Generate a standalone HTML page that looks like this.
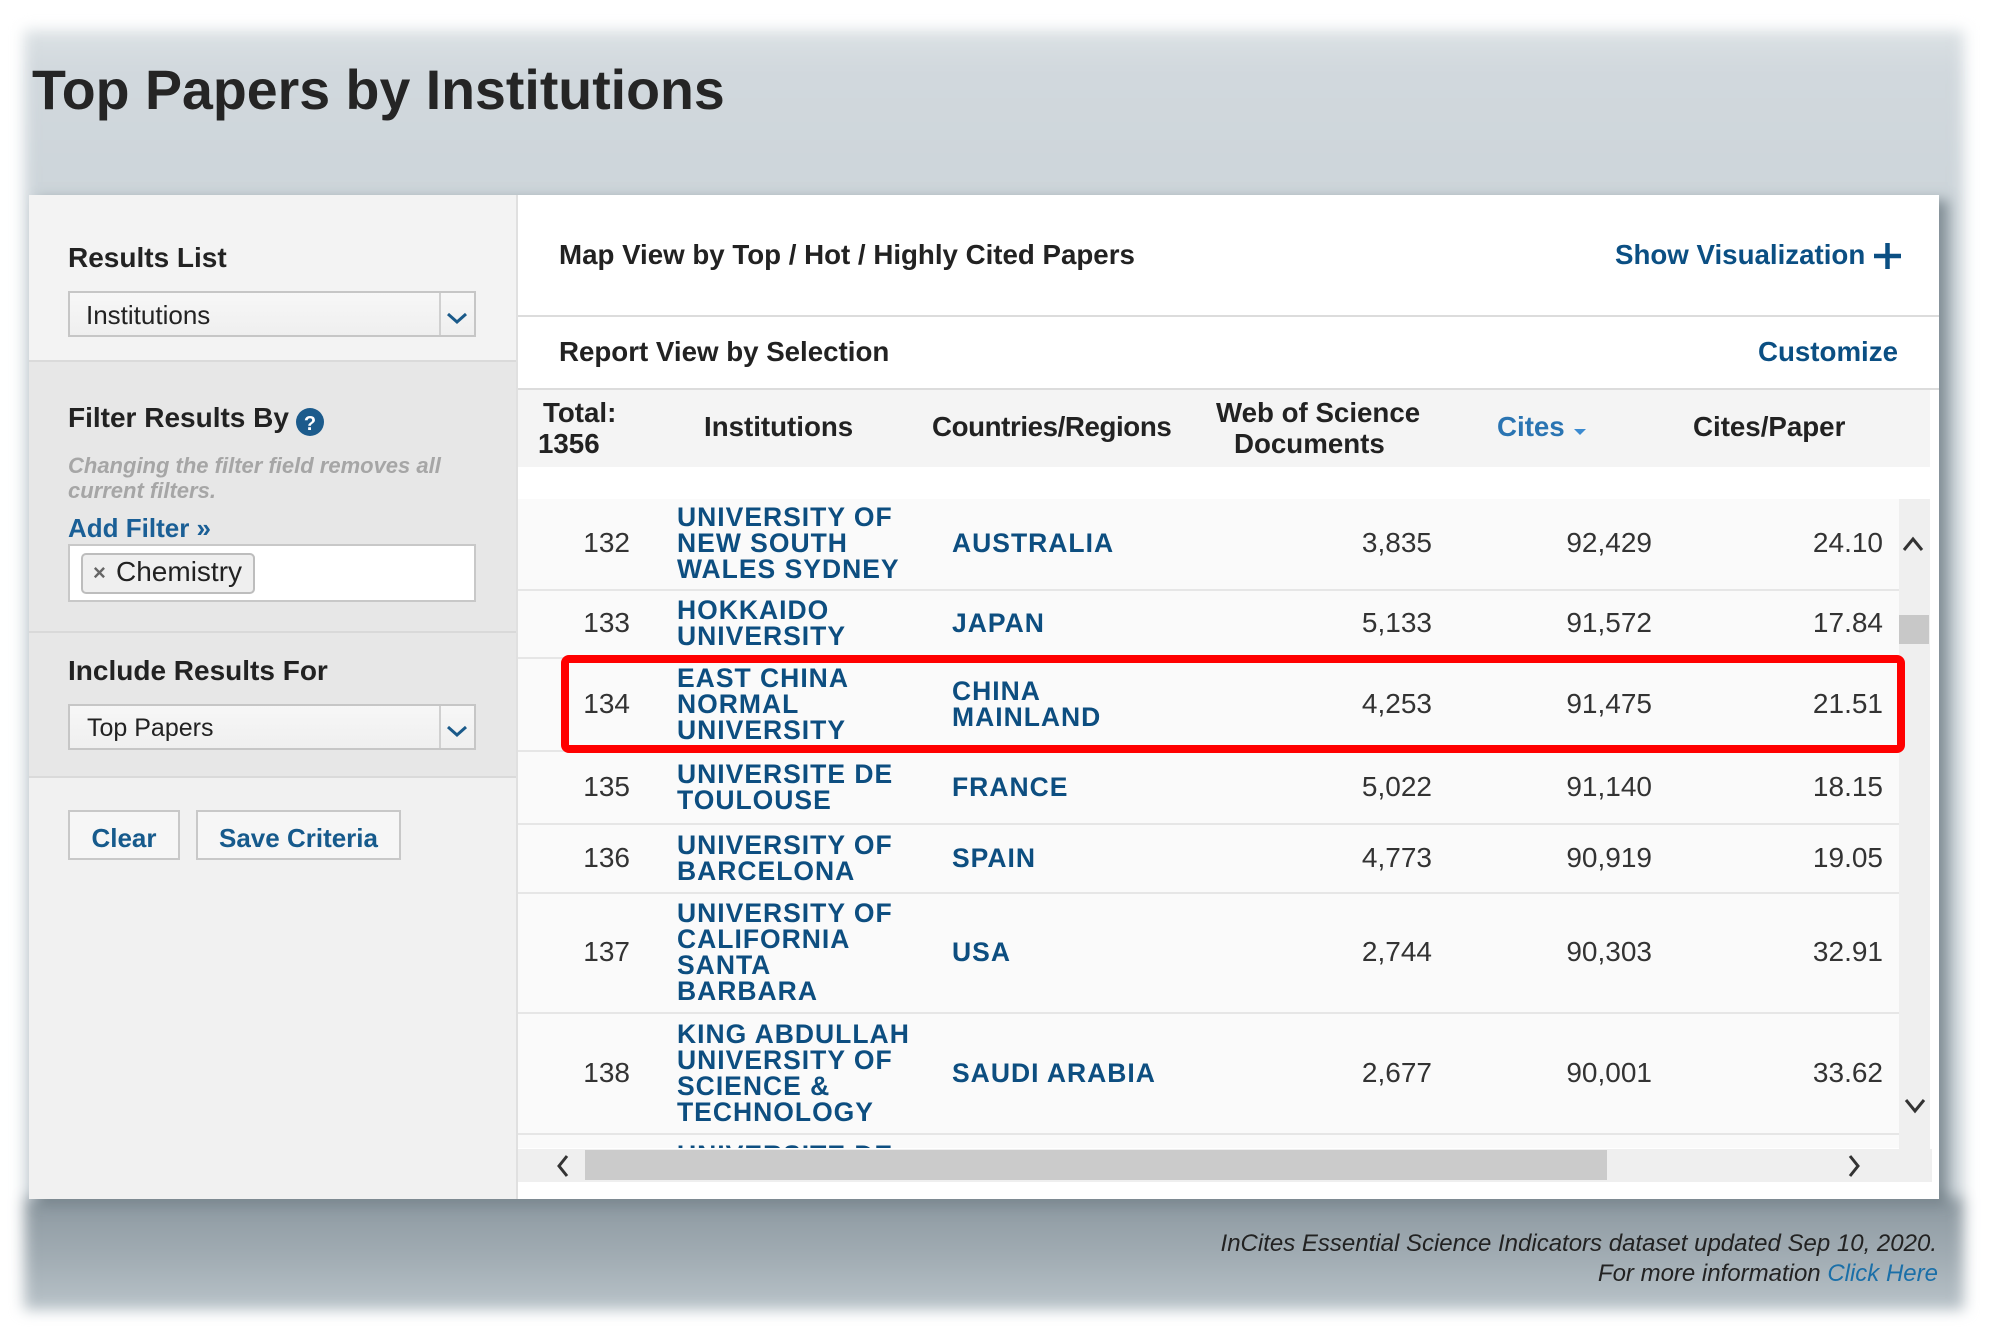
<!DOCTYPE html>
<html>
<head>
<meta charset="utf-8">
<style>
*{box-sizing:border-box;}
body{margin:0;width:2000px;height:1333px;position:relative;overflow:hidden;background:#fff;font-family:"Liberation Sans",Arial,sans-serif;color:#222;}
.a{position:absolute;white-space:nowrap;}
.b{font-weight:bold;}
.hdr{font-size:27.7px;line-height:27.7px;font-weight:bold;color:#222;}
.lbl{font-size:28px;line-height:28px;font-weight:bold;color:#222;}
.blue{color:#0b4f83;}
.row{position:absolute;left:0;width:1381px;background:#fafafa;border-bottom:2px solid #e6e6e6;}
.c{position:absolute;top:0;bottom:2px;display:flex;align-items:center;}
.inst{left:159px;font-size:26.5px;line-height:26px;font-weight:bold;letter-spacing:1px;color:#0d4e80;white-space:nowrap;}
.ctry{left:434px;font-size:26.5px;line-height:26px;font-weight:bold;letter-spacing:1px;color:#0d4e80;white-space:nowrap;}
.num{font-size:28px;line-height:28px;color:#333;justify-content:flex-end;width:150px;}
.n0{left:-38px;}
.n1{left:764px;}
.n2{left:984px;}
.n3{left:1215px;}
.dd{position:absolute;left:68px;width:408px;height:46px;border:2px solid #c6c6c6;background:linear-gradient(#f7f7f7,#efefef);}
.dd .div{position:absolute;left:369px;top:0;bottom:0;border-left:2px solid #d0d0d0;}
.btn{position:absolute;top:810px;height:50px;border:2px solid #c8c8c8;background:#f6f6f6;font-size:26px;line-height:26px;font-weight:bold;color:#165a8c;text-align:center;padding-top:13px;}
</style>
</head>
<body>

<!-- backdrop -->
<div class="a" style="left:24px;top:30px;width:1940px;height:1280px;filter:blur(7px);background:linear-gradient(to bottom,#dbe1e4 0px,#d1d8dd 40px,#cdd5da 165px,#cdd5da 1165px,#8d99a1 1170px,#a2adb4 1230px,#b9c3c9 1280px);"></div>

<!-- title -->
<div class="a b" style="left:32px;top:63px;font-size:55.5px;line-height:55.5px;color:#252525;">Top Papers by Institutions</div>

<!-- main panel -->
<div class="a" style="left:29px;top:195px;width:1910px;height:1004px;background:#fff;box-shadow:9px 5px 12px rgba(70,85,95,0.55);"></div>

<!-- left panel -->
<div class="a" style="left:29px;top:195px;width:489px;height:1004px;background:#f1f1f1;border-right:2px solid #e0e0e0;"></div>
<div class="a" style="left:29px;top:195px;width:487px;height:165px;background:#f3f3f3;"></div>
<div class="a" style="left:29px;top:360px;width:487px;height:418px;background:#e7e7e7;border-top:2px solid #dadada;border-bottom:2px solid #dadada;"></div>
<div class="a" style="left:29px;top:631px;width:487px;height:2px;background:#d9d9d9;"></div>

<div class="a lbl" style="left:68px;top:244px;">Results List</div>
<div class="dd" style="top:291px;"><div class="div"></div></div>
<div class="a" style="left:86px;top:302px;font-size:26px;line-height:26px;color:#222;">Institutions</div>

<div class="a lbl" style="left:68px;top:404px;">Filter Results By</div>
<div class="a" style="left:68px;top:453px;font-size:22px;line-height:25px;font-weight:bold;font-style:italic;color:#a6a6a6;">Changing the filter field removes all<br>current filters.</div>
<div class="a b" style="left:68px;top:515px;font-size:26px;line-height:26px;color:#1a5f96;">Add Filter »</div>
<div class="a" style="left:68px;top:544px;width:408px;height:58px;background:#fff;border:2px solid #c8c8c8;"></div>
<div class="a" style="left:81px;top:553px;width:174px;height:41px;background:#efefef;border:2px solid #bdbdbd;border-radius:5px;"></div>
<div class="a b" style="left:93px;top:562px;font-size:22px;line-height:22px;color:#666;">×</div>
<div class="a" style="left:116px;top:558px;font-size:28px;line-height:28px;color:#222;">Chemistry</div>

<div class="a lbl" style="left:68px;top:657px;">Include Results For</div>
<div class="dd" style="top:704px;"><div class="div"></div></div>
<div class="a" style="left:87px;top:716px;font-size:25px;line-height:25px;color:#222;">Top Papers</div>

<div class="btn" style="left:68px;width:112px;">Clear</div>
<div class="btn" style="left:196px;width:205px;">Save Criteria</div>

<!-- right panel sections -->
<div class="a hdr" style="left:559px;top:241px;">Map View by Top / Hot / Highly Cited Papers</div>
<div class="a hdr blue" style="left:1615px;top:241px;">Show Visualization</div>
<div class="a" style="left:518px;top:315px;width:1421px;height:2px;background:#dcdcdc;"></div>
<div class="a hdr" style="left:559px;top:338px;">Report View by Selection</div>
<div class="a hdr blue" style="left:1758px;top:338px;">Customize</div>
<div class="a" style="left:518px;top:388px;width:1421px;height:2px;background:#dcdcdc;"></div>

<!-- table header -->
<div class="a" style="left:518px;top:390px;width:1412px;height:77px;background:#f4f4f4;"></div>
<div class="a hdr" style="left:543px;top:399px;">Total:</div>
<div class="a hdr" style="left:538px;top:430px;">1356</div>
<div class="a hdr" style="left:704px;top:413px;">Institutions</div>
<div class="a hdr" style="left:932px;top:413px;letter-spacing:-0.4px;">Countries/Regions</div>
<div class="a hdr" style="left:1216px;top:399px;">Web of Science</div>
<div class="a hdr" style="left:1234px;top:430px;">Documents</div>
<div class="a hdr" style="left:1497px;top:413px;color:#2a74b2;">Cites</div>
<div class="a hdr" style="left:1693px;top:413px;">Cites/Paper</div>

<!-- rows -->
<div class="a" style="left:518px;top:499px;width:1381px;height:649px;overflow:hidden;background:#fafafa;">
  <div class="row" style="top:0px;height:92px;">
    <div class="c num n0">132</div>
    <div class="c inst">UNIVERSITY OF<br>NEW SOUTH<br>WALES SYDNEY</div>
    <div class="c ctry">AUSTRALIA</div>
    <div class="c num n1">3,835</div><div class="c num n2">92,429</div><div class="c num n3">24.10</div>
  </div>
  <div class="row" style="top:92px;height:68px;">
    <div class="c num n0">133</div>
    <div class="c inst">HOKKAIDO<br>UNIVERSITY</div>
    <div class="c ctry">JAPAN</div>
    <div class="c num n1">5,133</div><div class="c num n2">91,572</div><div class="c num n3">17.84</div>
  </div>
  <div class="row" style="top:160px;height:93px;">
    <div class="c num n0">134</div>
    <div class="c inst">EAST CHINA<br>NORMAL<br>UNIVERSITY</div>
    <div class="c ctry">CHINA<br>MAINLAND</div>
    <div class="c num n1">4,253</div><div class="c num n2">91,475</div><div class="c num n3">21.51</div>
  </div>
  <div class="row" style="top:253px;height:73px;">
    <div class="c num n0">135</div>
    <div class="c inst">UNIVERSITE DE<br>TOULOUSE</div>
    <div class="c ctry">FRANCE</div>
    <div class="c num n1">5,022</div><div class="c num n2">91,140</div><div class="c num n3">18.15</div>
  </div>
  <div class="row" style="top:326px;height:69px;">
    <div class="c num n0">136</div>
    <div class="c inst">UNIVERSITY OF<br>BARCELONA</div>
    <div class="c ctry">SPAIN</div>
    <div class="c num n1">4,773</div><div class="c num n2">90,919</div><div class="c num n3">19.05</div>
  </div>
  <div class="row" style="top:395px;height:120px;">
    <div class="c num n0">137</div>
    <div class="c inst">UNIVERSITY OF<br>CALIFORNIA<br>SANTA<br>BARBARA</div>
    <div class="c ctry">USA</div>
    <div class="c num n1">2,744</div><div class="c num n2">90,303</div><div class="c num n3">32.91</div>
  </div>
  <div class="row" style="top:515px;height:121px;">
    <div class="c num n0">138</div>
    <div class="c inst">KING ABDULLAH<br>UNIVERSITY OF<br>SCIENCE &amp;<br>TECHNOLOGY</div>
    <div class="c ctry">SAUDI ARABIA</div>
    <div class="c num n1">2,677</div><div class="c num n2">90,001</div><div class="c num n3">33.62</div>
  </div>
  <div class="row" style="top:636px;height:120px;border-bottom:none;">
    <div class="a inst" style="left:159px;top:7px;">UNIVERSITE DE<br>TOULOUSE</div>
  </div>
</div>

<!-- vertical scrollbar -->
<div class="a" style="left:1899px;top:499px;width:31px;height:650px;background:#efefef;"></div>
<div class="a" style="left:1899px;top:615px;width:30px;height:29px;background:#c8c8c8;"></div>

<!-- horizontal scrollbar -->
<div class="a" style="left:518px;top:1149px;width:1414px;height:33px;background:#efefef;"></div>
<div class="a" style="left:585px;top:1150px;width:1022px;height:30px;background:#cbcbcb;"></div>

<!-- footer -->
<div class="a" style="left:900px;top:1232px;width:1037px;text-align:right;font-size:24px;line-height:24px;font-style:italic;color:#222;">InCites Essential Science Indicators dataset updated Sep 10, 2020.</div>
<div class="a" style="left:900px;top:1262px;width:1038px;text-align:right;font-size:24px;line-height:24px;font-style:italic;color:#222;">For more information <span style="color:#1a6fa8;">Click Here</span></div>

<!-- overlay graphics -->
<svg class="a" style="left:0;top:0;" width="2000" height="1333" viewBox="0 0 2000 1333">
  <polyline points="448,314 457,322 466,314" fill="none" stroke="#1a5a8a" stroke-width="3"/>
  <polyline points="448,727 457,735 466,727" fill="none" stroke="#1a5a8a" stroke-width="3"/>
  <circle cx="310" cy="422" r="14" fill="#1c5b8c"/>
  <text x="310" y="430" text-anchor="middle" font-family="Liberation Sans, Arial, sans-serif" font-weight="bold" font-size="20" fill="#fff">?</text>
  <line x1="1874" y1="256" x2="1901" y2="256" stroke="#0b4f83" stroke-width="4.5"/>
  <line x1="1887.5" y1="243" x2="1887.5" y2="269" stroke="#0b4f83" stroke-width="4.5"/>
  <polygon points="1574,429 1586,429 1580,435" fill="#3b8ad0"/>
  <polyline points="1904,550 1913,539 1922,550" fill="none" stroke="#333" stroke-width="3"/>
  <polyline points="1906,1100 1915,1111 1924,1100" fill="none" stroke="#333" stroke-width="3"/>
  <polyline points="567,1156 559,1166 567,1176" fill="none" stroke="#333" stroke-width="3"/>
  <polyline points="1850,1156 1858,1166 1850,1176" fill="none" stroke="#333" stroke-width="3"/>
  <rect x="565" y="659" width="1336" height="90" rx="4" ry="4" fill="none" stroke="#ff0000" stroke-width="8"/>
</svg>

</body>
</html>
